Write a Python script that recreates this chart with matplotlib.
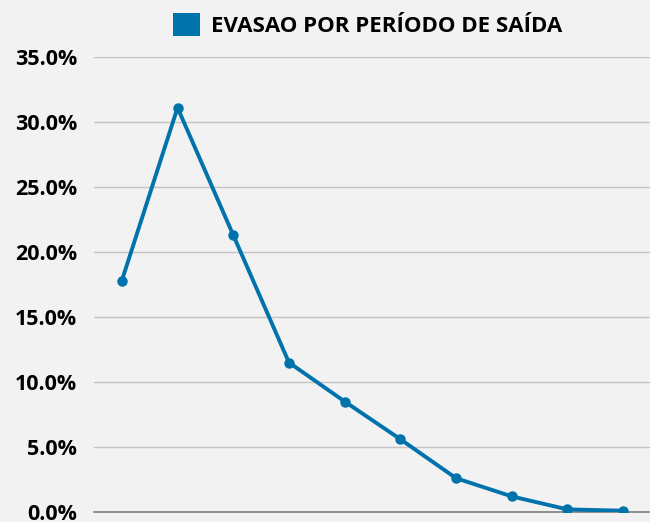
import matplotlib
matplotlib.use("Agg")
import matplotlib.pyplot as plt
from matplotlib.ticker import FuncFormatter
from matplotlib.patches import Patch

categories = ["1", "2", "3", "4", "5", "6", "7", "8", "9", "10"]
evasao = [0.178, 0.311, 0.213, 0.115, 0.085, 0.056, 0.026, 0.012, 0.002, 0.001]
series_name = "EVASAO POR PERÍODO DE SAÍDA"

bg = "#f2f2f2"
line_color = "#0072ac"

plt.rcParams['font.family'] = ['Open Sans', 'DejaVu Sans']

fig = plt.figure(figsize=(6.5, 5.22), dpi=100, facecolor=bg)
ax = fig.add_axes([94/650, 1 - 512/522, (651 - 94)/650, (512 - 57)/522])
ax.set_facecolor(bg)

x = list(range(len(categories)))
ax.plot(x, evasao, color=line_color, lw=2.8, marker='o', ms=6.5, solid_capstyle='round')

ax.set_xlim(-0.5, len(categories) - 0.5)
ax.set_ylim(0, 0.35)
ax.set_yticks([i * 0.05 for i in range(8)])
ax.yaxis.set_major_formatter(FuncFormatter(lambda v, p: f"{v*100:.1f}%"))
ax.set_xticks(x)
ax.set_xticklabels([])
ax.tick_params(axis='x', length=0)
ax.tick_params(axis='y', length=0, pad=12, labelsize=15.5)
for lab in ax.get_yticklabels():
    lab.set_fontweight('bold')

ax.grid(axis='y', color='#c4c4c4', lw=1)
ax.set_axisbelow(True)
for s in ['top', 'right', 'left']:
    ax.spines[s].set_visible(False)
ax.spines['bottom'].set_color('#7f7f7f')
ax.spines['bottom'].set_linewidth(1.2)
ax.spines['bottom'].set_zorder(1)

handle = Patch(facecolor=line_color, edgecolor='none')
leg = fig.legend([handle], [series_name], loc='center', bbox_to_anchor=(368/650, 1 - 25/522),
                 frameon=False, handlelength=1.2, handleheight=1.2, handletextpad=0.5,
                 prop={'weight': 'bold', 'size': 16})

fig.savefig("out.png", dpi=100, facecolor=bg)
